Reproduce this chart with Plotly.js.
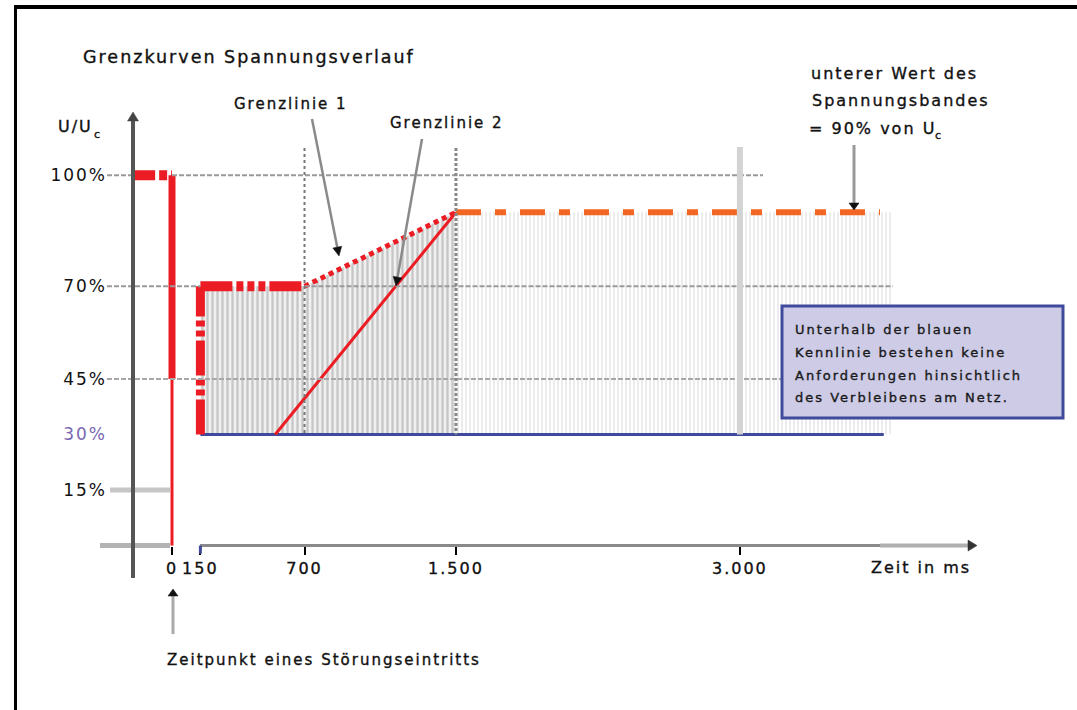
<!DOCTYPE html>
<html>
<head>
<meta charset="utf-8">
<script src="https://cdn.plot.ly/plotly-3.0.1.min.js"></script>
<style>
  html, body { margin: 0; padding: 0; background: #ffffff; }
  #chart { width: 1077px; height: 710px; }
  svg text { letter-spacing: 2px; }
  .annotation-text, .xtick text { stroke: #111; stroke-width: 0.35px; }
</style>
</head>
<body>
<div id="chart"></div>
<script>
// ---------------- data ----------------
const xTickVals = [0, 150, 700, 1500, 3000];
const xTickText = ['0', '150', '700', '1.500', '3.000'];
const yTickVals = [15, 30, 45, 70, 100];
const yTickText = ['15%', '30%', '45%', '70%', '100%'];

// voltage before the fault and the drop at the fault instant (t = 0)
const preFaultT = [-200, 0];
const preFaultU = [100, 100];
const dropT = [0, 0];
const dropUpperU = [100, 45];
const dropLowerU = [45, 0];

// Grenzlinie 1
const gl1VertT = [150, 150];
const gl1VertU = [30, 70];
const gl1FlatT = [150, 700];
const gl1FlatU = [70, 70];
const gl1RampT = [700, 1500];
const gl1RampU = [70, 90];

// Grenzlinie 2
const gl2T = [545, 1500];
const gl2U = [30, 90];

// lower value of the voltage band (90 % of Uc)
const bandT = [1500, 3740];
const bandU = [90, 90];

// blue characteristic at 30 %
const blueT = [150, 3760];
const blueU = [30, 30];

// hatched areas
const areaAT = [150, 150, 700, 1500, 1500];
const areaAU = [30, 70, 70, 90, 30];
const areaBT = [1500, 1500, 3800, 3800];
const areaBU = [30, 90, 90, 30];

// ---------------- geometry helpers ----------------
const L = 60, R = 1000, T = 100, B = 610;   // plot area in px
const X0 = 172, XS = 0.1893;                // px = X0 + XS * t
const Y0 = 545.6, YS = 3.704;               // py = Y0 - YS * u
const tx = px => (px - X0) / XS;
const uy = py => (Y0 - py) / YS;
const PX = px => (px - L) / (R - L);
const PY = py => (B - py) / (B - T);

const RED = '#ec1c24', ORANGE = '#f26522', BLUE = '#3f4a9c', PURPLE = '#7a67b3';
const FONT = 'DejaVu Sans, Arial, sans-serif';

function line(x, y, color, width, dash) {
  return { x: x, y: y, type: 'scatter', mode: 'lines', hoverinfo: 'skip',
           line: { color: color, width: width, dash: dash || 'solid' }, cliponaxis: false };
}

const traces = [
  { x: areaAT, y: areaAU, type: 'scatter', mode: 'lines', fill: 'toself', hoverinfo: 'skip',
    line: { width: 0, color: 'rgba(0,0,0,0)' }, fillcolor: '#f0f0f0',
    fillpattern: { shape: '|', fgcolor: '#c6c6c6', bgcolor: '#f0f0f0', size: 5, solidity: 0.45 } },
  { x: areaBT, y: areaBU, type: 'scatter', mode: 'lines', fill: 'toself', hoverinfo: 'skip',
    line: { width: 0, color: 'rgba(0,0,0,0)' }, fillcolor: '#ffffff',
    fillpattern: { shape: '|', fgcolor: '#ececec', bgcolor: '#ffffff', size: 4, solidity: 0.5 } },
  line(blueT, blueU, BLUE, 3),
  line(preFaultT, preFaultU, RED, 10, '21px,4px,8px,4px'),
  line(dropT, dropUpperU, RED, 7),
  line(dropT, dropLowerU, RED, 3),
  line(gl1VertT, gl1VertU, RED, 9, '35px,4px,6px,4px,6px,4px'),
  line(gl1FlatT, gl1FlatU, RED, 10, '32px,4px,7px,4px,7px,4px,7px,4px'),
  line(gl1RampT, gl1RampU, RED, 5, '5px,4px'),
  line(gl2T, gl2U, RED, 3),
  line(bandT, bandU, ORANGE, 6, '25px,14px,11px,14px')
];

// ---------------- shapes ----------------
function hseg(t1, t2, u, color, width, dash) {
  return { type: 'line', xref: 'x', yref: 'y', x0: t1, x1: t2, y0: u, y1: u, layer: 'above',
           line: { color: color, width: width, dash: dash || 'solid' } };
}
function vseg(t, u1, u2, color, width, dash) {
  return { type: 'line', xref: 'x', yref: 'y', x0: t, x1: t, y0: u1, y1: u2, layer: 'above',
           line: { color: color, width: width, dash: dash || 'solid' } };
}
// arrow drawn as a line plus a filled triangular head (pixel positions -> paper)
function arrowShapes(hx, hy, sx, sy, color, width, headColor, hl, hw) {
  const dx = hx - sx, dy = hy - sy, len = Math.hypot(dx, dy);
  const ux = dx / len, uy2 = dy / len, nx = -uy2, ny = ux;
  const bx = hx - ux * hl, by = hy - uy2 * hl;
  const p = (x, y) => PX(x) + ',' + PY(y);
  return [
    { type: 'line', xref: 'paper', yref: 'paper', x0: PX(sx), y0: PY(sy), x1: PX(bx), y1: PY(by),
      line: { color: color, width: width }, layer: 'above' },
    { type: 'path', xref: 'paper', yref: 'paper', layer: 'above',
      path: 'M' + p(hx, hy) + 'L' + p(bx + nx * hw / 2, by + ny * hw / 2) + 'L' +
            p(bx - nx * hw / 2, by - ny * hw / 2) + 'Z',
      fillcolor: headColor, line: { color: headColor, width: 0.5 } }
  ];
}
const GRID = '#9a9a9a';
const shapes = [
  // frame of the picture
  { type: 'line', xref: 'paper', yref: 'paper', x0: PX(14), x1: PX(1080), y0: PY(7), y1: PY(7),
    line: { color: '#000', width: 4 } },
  { type: 'line', xref: 'paper', yref: 'paper', x0: PX(15.5), x1: PX(15.5), y0: PY(5), y1: PY(712),
    line: { color: '#000', width: 3 } },
  // horizontal grid lines
  hseg(tx(107), -200, 100, GRID, 2, '5px,2px'),
  hseg(0, tx(763), 100, GRID, 2, '5px,2px'),
  hseg(tx(107), 150, 70, GRID, 2, '5px,2px'),
  hseg(700, tx(893), 70, GRID, 2, '5px,2px'),
  hseg(tx(107), tx(893), 45, '#a8a8a8', 2, '5px,2px'),
  hseg(tx(110), tx(170), 15, '#c6c6c6', 5),
  // vertical grid lines
  vseg(3000, uy(147), 30, '#d3d3d3', 6),
  vseg(700, uy(148), 30, '#777', 2, '3px,3px'),
  vseg(1500, uy(148), 30, '#888', 3, '3px,2px'),
  // x axis pieces
  hseg(tx(100), tx(170), 0, '#b3b3b3', 5),
  hseg(tx(200), tx(880), 0, '#8a8a8a', 3),
  // blue tick at 150
  { type: 'line', xref: 'x', yref: 'paper', x0: 150, x1: 150, y0: PY(Y0), y1: PY(Y0 + 8),
    line: { color: BLUE, width: 3 } },
  // info box
  { type: 'rect', xref: 'paper', yref: 'paper', x0: PX(782), x1: PX(1063), y0: PY(306), y1: PY(418),
    fillcolor: '#cdcbe6', line: { color: BLUE, width: 3 }, layer: 'above' }
].concat(
  arrowShapes(339, 256, 312, 119, '#8a8a8a', 2.5, '#111', 9, 9),
  arrowShapes(396, 286, 422, 139, '#8a8a8a', 2.5, '#111', 9, 9),
  arrowShapes(854, 210, 854, 145, '#999', 3, '#111', 7, 10),
  arrowShapes(173, 589, 173, 634, '#aaa', 3, '#111', 7, 10),
  arrowShapes(133, 112, 133, 578, '#555', 4, '#444', 9, 11),
  arrowShapes(977, Y0, 880, Y0, '#b0b0b0', 4, '#333', 9, 11)
);

// ---------------- annotations ----------------
function label(text, left, cy, size, color) {
  return { text: text, xref: 'paper', yref: 'paper', x: PX(left), y: PY(cy), xanchor: 'left',
           yanchor: 'middle', showarrow: false, borderpad: 0,
           font: { family: FONT, size: size, color: color || '#111' } };
}
const annotations = [
  label('Grenzkurven Spannungsverlauf', 82, 57, 17.5),
  label('U/U', 57, 126, 16),
  label('c', 93, 134, 11),
  label('Grenzlinie 1', 233, 104, 15),
  label('Grenzlinie 2', 389, 123, 15),
  label('unterer Wert des', 810, 74, 16),
  label('Spannungsbandes', 811, 100, 16),
  label('= 90% von U', 808, 128, 16),
  label('c', 934, 135, 11),
  label('Zeit in ms', 870, 567, 16),
  label('Zeitpunkt eines Störungseintritts', 166, 660, 15),
  label('Unterhalb der blauen', 794, 329, 13, '#222'),
  label('Kennlinie bestehen keine', 794, 352, 13, '#222'),
  label('Anforderungen hinsichtlich', 794, 375, 13, '#222'),
  label('des Verbleibens am Netz.', 794, 398, 13, '#222')
];

const layout = {
  width: 1077, height: 710,
  margin: { l: L, r: 1077 - R, t: T, b: 710 - B, pad: 0 },
  paper_bgcolor: '#ffffff', plot_bgcolor: 'rgba(0,0,0,0)',
  showlegend: false,
  font: { family: FONT, size: 16, color: '#111' },
  xaxis: {
    range: [tx(L), tx(R)], anchor: 'free', position: PY(Y0),
    tickmode: 'array', tickvals: xTickVals, ticktext: xTickText, tickangle: 0,
    ticks: 'outside', ticklen: 8, tickwidth: 2, tickcolor: '#000',
    showline: false, showgrid: false, zeroline: false, fixedrange: true,
    tickfont: { family: FONT, size: 16, color: '#111' }
  },
  yaxis: {
    range: [uy(B), uy(T)], anchor: 'free', position: PX(107),
    tickmode: 'array', tickvals: yTickVals, ticktext: yTickText,
    ticks: '', showline: false, showgrid: false, zeroline: false, fixedrange: true,
    tickfont: { family: FONT, size: 17, color: '#111' }
  },
  shapes: shapes,
  annotations: annotations
};

Plotly.newPlot('chart', traces, layout, { displayModeBar: false, staticPlot: true }).then(function () {
  // colour the 30 % tick label like the blue characteristic's label
  document.querySelectorAll('#chart .ytick text').forEach(function (t) {
    if (t.textContent.trim() === '30%') t.style.fill = PURPLE;
  });
});
</script>
</body>
</html>
